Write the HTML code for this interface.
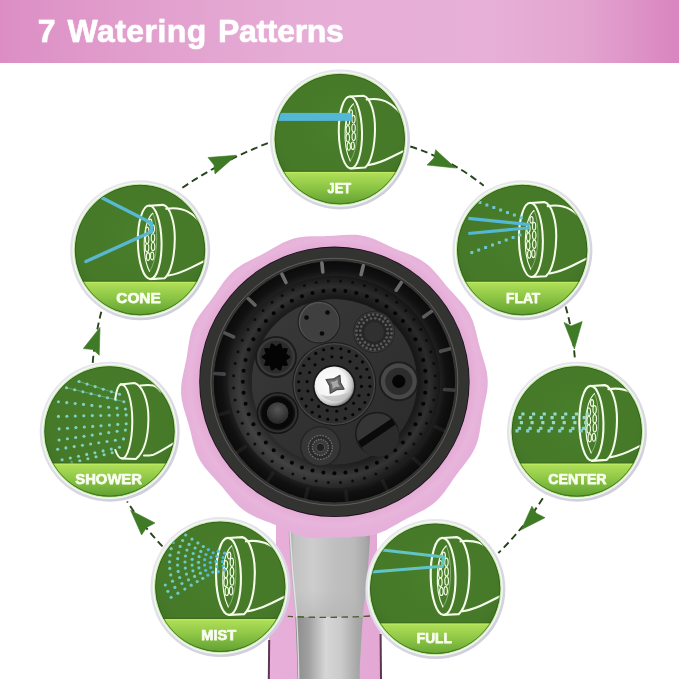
<!DOCTYPE html>
<html><head><meta charset="utf-8"><title>7 Watering Patterns</title>
<style>
html,body{margin:0;padding:0;background:#fff;}
body{width:679px;height:679px;overflow:hidden;position:relative;font-family:"Liberation Sans",sans-serif;}
#hdr{position:absolute;left:0;top:0;width:679px;height:62.6px;
 background:linear-gradient(90deg,#dc8ec4 0%,#e19dcc 18%,#e6add6 45%,#e7b0d8 72%,#e3a4d0 86%,#d985bf 100%);}
#hdr span{-webkit-text-stroke:0.5px #fff;position:absolute;top:13.4px;font-weight:bold;font-size:32px;line-height:37px;color:#fff;white-space:nowrap;text-shadow:0 0 1.5px rgba(255,255,255,.6);}
#h1{left:37.7px;}#h2{left:67.6px;letter-spacing:0.42px;}#h3{left:217.9px;letter-spacing:-0.3px;}
svg{position:absolute;left:0;top:0;will-change:transform;}
#hdr{will-change:transform;}
.lbl{font-family:"Liberation Sans",sans-serif;font-weight:bold;font-size:15.3px;fill:#f9fdf0;stroke:#f9fdf0;stroke-width:0.75px;stroke-linejoin:round;}
</style></head><body>
<div id="hdr"><span id="h1">7</span><span id="h2">Watering</span><span id="h3">Patterns</span></div>
<svg width="679" height="679" viewBox="0 0 679 679">
<defs>
<linearGradient id="ring" x1="0.15" y1="0" x2="0.85" y2="1"><stop offset="0" stop-color="#e9e9ee"/><stop offset="0.5" stop-color="#dddde5"/><stop offset="1" stop-color="#cccbd9"/></linearGradient>
<filter id="soft" x="-10%" y="-10%" width="120%" height="120%"><feGaussianBlur stdDeviation="0.6"/></filter>
<linearGradient id="band" x1="0" y1="0" x2="0" y2="1"><stop offset="0" stop-color="#b2e059"/><stop offset="0.4" stop-color="#8bc544"/><stop offset="1" stop-color="#4f8f2b"/></linearGradient>
<radialGradient id="gshade" cx="0.5" cy="0.4" r="0.62"><stop offset="0" stop-color="#4d852d" stop-opacity="0.5"/><stop offset="0.7" stop-color="#467a29" stop-opacity="0"/><stop offset="1" stop-color="#2f5f1c" stop-opacity="0.55"/></radialGradient>
<clipPath id="cclip"><circle r="65.2"/></clipPath>
<radialGradient id="pink" cx="0.5" cy="0.485" r="0.5"><stop offset="0.88" stop-color="#e3abd5"/><stop offset="0.94" stop-color="#e8b5dc"/><stop offset="1" stop-color="#e5b0d9"/></radialGradient>
<linearGradient id="pinkh" x1="0" y1="0" x2="1" y2="0"><stop offset="0" stop-color="#e7afda"/><stop offset="0.5" stop-color="#e5abd7"/><stop offset="1" stop-color="#e3a8d4"/></linearGradient>
<radialGradient id="rimshade" cx="0.5" cy="0.5" r="0.5"><stop offset="0.88" stop-color="#2a2a2a" stop-opacity="0.9"/><stop offset="0.93" stop-color="#454545" stop-opacity="0.6"/><stop offset="1" stop-color="#303030" stop-opacity="0.9"/></radialGradient>
<radialGradient id="bowl" cx="0.5" cy="0.5" r="0.5"><stop offset="0.84" stop-color="#2a2a2a"/><stop offset="0.93" stop-color="#111"/><stop offset="1" stop-color="#0b0b0b"/></radialGradient>
<radialGradient id="perf" cx="0.5" cy="0.5" r="0.5"><stop offset="0.8" stop-color="#1c1c1c"/><stop offset="0.9" stop-color="#333"/><stop offset="1" stop-color="#1a1a1a"/></radialGradient>
<linearGradient id="face" x1="0" y1="0" x2="1" y2="1"><stop offset="0" stop-color="#3a3a3a"/><stop offset="1" stop-color="#2a2a2a"/></linearGradient>
<radialGradient id="screw" cx="0.42" cy="0.42" r="0.62"><stop offset="0" stop-color="#ffffff"/><stop offset="0.62" stop-color="#f4f4f4"/><stop offset="0.85" stop-color="#c4c4c4"/><stop offset="1" stop-color="#6a6a6a"/></radialGradient>
<linearGradient id="perfl" x1="1" y1="0" x2="0" y2="1"><stop offset="0" stop-color="#000" stop-opacity="0.35"/><stop offset="0.45" stop-color="#000" stop-opacity="0"/><stop offset="1" stop-color="#fff" stop-opacity="0.2"/></linearGradient>
<radialGradient id="boss" cx="0.5" cy="0.35" r="0.6"><stop offset="0" stop-color="#555"/><stop offset="1" stop-color="#2a2a2a"/></radialGradient>
<linearGradient id="silver" x1="0" y1="0" x2="1" y2="0"><stop offset="0" stop-color="#a6a6a6"/><stop offset="0.07" stop-color="#c2c2c2"/><stop offset="0.3" stop-color="#cdcdcd"/><stop offset="0.55" stop-color="#c0c0c0"/><stop offset="0.8" stop-color="#bababa"/><stop offset="0.95" stop-color="#a8a8a8"/><stop offset="1" stop-color="#9a9a9a"/></linearGradient>
<linearGradient id="silver2" x1="0" y1="0" x2="1" y2="0"><stop offset="0.12" stop-color="#8c8c8c"/><stop offset="0.26" stop-color="#a0a0a0"/><stop offset="0.45" stop-color="#d6d6d6"/><stop offset="0.62" stop-color="#cbcbcb"/><stop offset="0.8" stop-color="#a8a8a8"/><stop offset="0.9" stop-color="#9c9c9c"/></linearGradient>
<linearGradient id="silfade" x1="0" y1="0" x2="0" y2="1"><stop offset="0" stop-color="#b4b4b4" stop-opacity="0"/><stop offset="1" stop-color="#b0b0b0" stop-opacity="0.55"/></linearGradient>
<linearGradient id="silverv_unused" x1="0" y1="0" x2="0" y2="1"><stop offset="0" stop-color="#bbb" stop-opacity="0.3"/><stop offset="0.55" stop-color="#aaa" stop-opacity="0.25"/><stop offset="0.62" stop-color="#e8e8e8" stop-opacity="0.5"/><stop offset="1" stop-color="#ddd" stop-opacity="0.3"/></linearGradient>
</defs>
<path d="M276,500 L276,560 C276,600 270,625 268.5,645 L268,679 L381.5,679 L381,640 C379.5,615 377,590 377,560 L377,500 Z" fill="url(#pinkh)"/>
<path d="M269.2,640 L268.8,679" stroke="#5e3653" stroke-width="2"/>
<path d="M380.6,634 L381,679" stroke="#5e3653" stroke-width="2"/>
<path d="M288.6,520 L288.6,530.5 C290,560 292.5,590 295.1,613.7 C296.5,640 297.3,660 297.5,679 L359.5,679 C360,655 361.5,635 363,613.7 C366.5,585 369,560 370.1,532.9 L370.1,520 Z" fill="url(#silver)"/>
<clipPath id="silclip"><path d="M288.6,520 L288.6,530.5 C290,560 292.5,590 295.1,613.7 C296.5,640 297.3,660 297.5,679 L359.5,679 C360,655 361.5,635 363,613.7 C366.5,585 369,560 370.1,532.9 L370.1,520 Z"/></clipPath>
<g clip-path="url(#silclip)">
<rect x="285" y="617" width="90" height="70" fill="url(#silver2)"/>
<rect x="285" y="590" width="90" height="27" fill="url(#silfade)"/>
<path d="M290,531 C291.5,560 294,590 296.6,614 C298,640 298.6,660 298.8,679" fill="none" stroke="#ececec" stroke-width="1.3" opacity="0.8"/>
</g>
<path d="M276,515 L288.6,530.5 L305.7,530.5 L310.4,537.6 L350,537.6 L353.7,532.9 L370.1,532.9 L377,515 Z" fill="#e6aed8"/>
<g transform="translate(334.4,381.8)">
<polygon points="153.2,4.7 152.9,7.4 152.6,10.0 152.1,12.7 151.6,15.3 151.1,17.9 150.5,20.5 149.9,23.1 149.4,25.7 148.8,28.3 148.3,30.9 147.8,33.4 147.4,36.0 147.0,38.6 146.6,41.3 146.2,43.9 145.8,46.5 145.4,49.2 144.9,51.8 144.4,54.4 143.8,57.0 143.0,59.6 142.2,62.1 141.2,64.6 140.1,67.1 138.9,69.5 137.6,71.8 136.2,74.1 134.7,76.3 133.1,78.5 131.5,80.6 129.9,82.8 128.3,84.9 126.6,86.9 125.0,89.0 123.4,91.1 121.8,93.2 120.3,95.4 118.8,97.5 117.3,99.7 115.8,101.9 114.3,104.1 112.8,106.3 111.3,108.5 109.7,110.6 108.0,112.7 106.3,114.8 104.5,116.8 102.6,118.7 100.6,120.5 98.6,122.2 96.4,123.8 94.2,125.3 91.9,126.7 89.6,128.1 87.3,129.3 84.9,130.5 82.5,131.7 80.1,132.9 77.7,134.1 75.4,135.2 73.0,136.4 70.7,137.7 68.4,138.9 66.1,140.2 63.8,141.6 61.5,142.9 59.2,144.2 56.9,145.5 54.6,146.8 52.2,148.1 49.8,149.2 47.3,150.3 44.8,151.3 42.3,152.1 39.7,152.9 37.1,153.5 34.5,154.0 31.8,154.3 29.1,154.6 26.5,154.8 23.8,154.9 21.1,154.9 18.4,154.9 15.8,155.0 13.1,155.0 10.5,155.0 7.9,155.1 5.3,155.2 2.6,155.4 0.0,155.5 -2.6,155.7 -5.3,156.0 -7.9,156.2 -10.6,156.3 -13.3,156.5 -16.0,156.5 -18.6,156.5 -21.3,156.4 -24.0,156.1 -26.6,155.8 -29.3,155.3 -31.9,154.6 -34.4,153.9 -37.0,153.1 -39.5,152.1 -42.0,151.1 -44.4,150.0 -46.8,148.9 -49.3,147.7 -51.7,146.6 -54.0,145.5 -56.4,144.4 -58.8,143.3 -61.3,142.3 -63.7,141.3 -66.2,140.3 -68.6,139.4 -71.1,138.4 -73.6,137.4 -76.1,136.4 -78.5,135.4 -80.9,134.2 -83.3,133.0 -85.7,131.7 -88.0,130.3 -90.2,128.8 -92.3,127.2 -94.4,125.5 -96.3,123.7 -98.2,121.8 -100.1,119.8 -101.8,117.8 -103.6,115.8 -105.2,113.7 -106.9,111.6 -108.6,109.6 -110.3,107.5 -111.9,105.5 -113.7,103.5 -115.4,101.5 -117.2,99.6 -119.0,97.6 -120.8,95.7 -122.6,93.8 -124.4,91.8 -126.2,89.8 -127.9,87.8 -129.6,85.7 -131.2,83.5 -132.7,81.3 -134.1,79.1 -135.4,76.7 -136.6,74.3 -137.7,71.9 -138.7,69.4 -139.5,66.8 -140.3,64.3 -141.0,61.7 -141.7,59.1 -142.3,56.5 -142.9,53.9 -143.5,51.3 -144.1,48.8 -144.8,46.2 -145.5,43.7 -146.2,41.2 -147.0,38.6 -147.7,36.1 -148.5,33.6 -149.3,31.0 -150.1,28.5 -150.8,25.9 -151.5,23.3 -152.1,20.7 -152.6,18.0 -152.9,15.4 -153.2,12.7 -153.3,10.1 -153.3,7.4 -153.2,4.7 -152.9,2.0 -152.6,-0.6 -152.1,-3.3 -151.6,-5.9 -151.1,-8.5 -150.5,-11.1 -149.9,-13.7 -149.4,-16.3 -148.8,-18.9 -148.3,-21.5 -147.8,-24.0 -147.4,-26.6 -147.0,-29.2 -146.6,-31.9 -146.2,-34.5 -145.8,-37.1 -145.4,-39.8 -144.9,-42.4 -144.4,-45.0 -143.8,-47.6 -143.0,-50.2 -142.2,-52.7 -141.2,-55.2 -140.1,-57.7 -138.9,-60.1 -137.6,-62.4 -136.2,-64.7 -134.7,-66.9 -133.1,-69.1 -131.5,-71.2 -129.9,-73.4 -128.3,-75.5 -126.6,-77.5 -125.0,-79.6 -123.4,-81.7 -121.8,-83.8 -120.3,-86.0 -118.8,-88.1 -117.3,-90.3 -115.8,-92.5 -114.3,-94.7 -112.8,-96.9 -111.3,-99.1 -109.7,-101.2 -108.0,-103.3 -106.3,-105.4 -104.5,-107.4 -102.6,-109.3 -100.6,-111.1 -98.6,-112.8 -96.4,-114.4 -94.2,-115.9 -91.9,-117.3 -89.6,-118.7 -87.3,-119.9 -84.9,-121.1 -82.5,-122.3 -80.1,-123.5 -77.7,-124.7 -75.4,-125.8 -73.0,-127.0 -70.7,-128.3 -68.4,-129.5 -66.1,-130.8 -63.8,-132.2 -61.5,-133.5 -59.2,-134.8 -56.9,-136.1 -54.6,-137.4 -52.2,-138.7 -49.8,-139.8 -47.3,-140.9 -44.8,-141.9 -42.3,-142.7 -39.7,-143.5 -37.1,-144.1 -34.5,-144.6 -31.8,-144.9 -29.1,-145.2 -26.5,-145.4 -23.8,-145.5 -21.1,-145.5 -18.4,-145.5 -15.8,-145.6 -13.1,-145.6 -10.5,-145.6 -7.9,-145.7 -5.3,-145.8 -2.6,-146.0 -0.0,-146.1 2.6,-146.3 5.3,-146.6 7.9,-146.8 10.6,-146.9 13.3,-147.1 16.0,-147.1 18.6,-147.1 21.3,-147.0 24.0,-146.7 26.6,-146.4 29.3,-145.9 31.9,-145.2 34.4,-144.5 37.0,-143.7 39.5,-142.7 42.0,-141.7 44.4,-140.6 46.8,-139.5 49.3,-138.3 51.7,-137.2 54.0,-136.1 56.4,-135.0 58.8,-133.9 61.3,-132.9 63.7,-131.9 66.2,-130.9 68.6,-130.0 71.1,-129.0 73.6,-128.0 76.1,-127.0 78.5,-126.0 80.9,-124.8 83.3,-123.6 85.7,-122.3 88.0,-120.9 90.2,-119.4 92.3,-117.8 94.4,-116.1 96.3,-114.3 98.2,-112.4 100.1,-110.4 101.8,-108.4 103.6,-106.4 105.2,-104.3 106.9,-102.2 108.6,-100.2 110.3,-98.1 111.9,-96.1 113.7,-94.1 115.4,-92.1 117.2,-90.2 119.0,-88.2 120.8,-86.3 122.6,-84.4 124.4,-82.4 126.2,-80.4 127.9,-78.4 129.6,-76.3 131.2,-74.1 132.7,-71.9 134.1,-69.7 135.4,-67.3 136.6,-64.9 137.7,-62.5 138.7,-60.0 139.5,-57.4 140.3,-54.9 141.0,-52.3 141.7,-49.7 142.3,-47.1 142.9,-44.5 143.5,-41.9 144.1,-39.4 144.8,-36.8 145.5,-34.3 146.2,-31.8 147.0,-29.2 147.7,-26.7 148.5,-24.2 149.3,-21.6 150.1,-19.1 150.8,-16.5 151.5,-13.9 152.1,-11.3 152.6,-8.6 152.9,-6.0 153.2,-3.3 153.3,-0.7 153.3,2.0 153.2,4.7" fill="url(#pink)"/>
<circle r="135.2" fill="#1c0f1a"/>
<circle r="134.4" fill="#333432"/>
<circle r="123.5" fill="none" stroke="#8a8a8a" stroke-width="0.7" opacity="0.7"/>
<circle r="120.5" fill="#161616"/>
<circle r="120.5" fill="url(#bowl)"/>
<line x1="-11.6" y1="-109.9" x2="-12.5" y2="-118.8" stroke="#8c8c8c" stroke-width="3.6" stroke-linecap="round" opacity="0.78"/>
<line x1="26.7" y1="-107.2" x2="28.9" y2="-116.0" stroke="#8c8c8c" stroke-width="3.6" stroke-linecap="round" opacity="0.77"/>
<line x1="61.8" y1="-91.6" x2="66.8" y2="-99.1" stroke="#8c8c8c" stroke-width="3.6" stroke-linecap="round" opacity="0.71"/>
<line x1="89.4" y1="-65.0" x2="96.7" y2="-70.2" stroke="#8c8c8c" stroke-width="3.6" stroke-linecap="round" opacity="0.62"/>
<line x1="106.2" y1="-30.5" x2="114.9" y2="-32.9" stroke="#8c8c8c" stroke-width="3.6" stroke-linecap="round" opacity="0.49"/>
<line x1="110.2" y1="7.7" x2="119.2" y2="8.3" stroke="#8c8c8c" stroke-width="3.6" stroke-linecap="round" opacity="0.35"/>
<line x1="100.9" y1="44.9" x2="109.2" y2="48.6" stroke="#8c8c8c" stroke-width="3.6" stroke-linecap="round" opacity="0.10"/>
<line x1="79.5" y1="76.8" x2="86.0" y2="83.0" stroke="#8c8c8c" stroke-width="3.6" stroke-linecap="round" opacity="0.10"/>
<line x1="48.4" y1="99.3" x2="52.4" y2="107.4" stroke="#8c8c8c" stroke-width="3.6" stroke-linecap="round" opacity="0.10"/>
<line x1="11.6" y1="109.9" x2="12.5" y2="118.8" stroke="#8c8c8c" stroke-width="3.6" stroke-linecap="round" opacity="0.10"/>
<line x1="-26.7" y1="107.2" x2="-28.9" y2="116.0" stroke="#8c8c8c" stroke-width="3.6" stroke-linecap="round" opacity="0.10"/>
<line x1="-61.8" y1="91.6" x2="-66.8" y2="99.1" stroke="#8c8c8c" stroke-width="3.6" stroke-linecap="round" opacity="0.10"/>
<line x1="-89.4" y1="65.0" x2="-96.7" y2="70.2" stroke="#8c8c8c" stroke-width="3.6" stroke-linecap="round" opacity="0.10"/>
<line x1="-106.2" y1="30.5" x2="-114.9" y2="32.9" stroke="#8c8c8c" stroke-width="3.6" stroke-linecap="round" opacity="0.10"/>
<line x1="-110.2" y1="-7.7" x2="-119.2" y2="-8.3" stroke="#8c8c8c" stroke-width="3.6" stroke-linecap="round" opacity="0.41"/>
<line x1="-100.9" y1="-44.9" x2="-109.2" y2="-48.6" stroke="#8c8c8c" stroke-width="3.6" stroke-linecap="round" opacity="0.54"/>
<line x1="-79.5" y1="-76.8" x2="-86.0" y2="-83.0" stroke="#8c8c8c" stroke-width="3.6" stroke-linecap="round" opacity="0.66"/>
<line x1="-48.4" y1="-99.3" x2="-52.4" y2="-107.4" stroke="#8c8c8c" stroke-width="3.6" stroke-linecap="round" opacity="0.74"/>
<circle r="106" fill="#2c2c2c"/>
<circle r="106" fill="url(#perf)"/>
<circle r="106" fill="url(#perfl)"/>
<circle cx="100.8" cy="6.1" r="1.5" fill="#0c0c0c"/>
<circle cx="99.3" cy="18.2" r="1.5" fill="#0c0c0c"/>
<circle cx="96.4" cy="30.0" r="1.5" fill="#0c0c0c"/>
<circle cx="92.1" cy="41.5" r="1.5" fill="#0c0c0c"/>
<circle cx="86.4" cy="52.3" r="1.5" fill="#0c0c0c"/>
<circle cx="79.5" cy="62.3" r="1.5" fill="#0c0c0c"/>
<circle cx="71.4" cy="71.4" r="1.5" fill="#0c0c0c"/>
<circle cx="62.3" cy="79.5" r="1.5" fill="#0c0c0c"/>
<circle cx="52.3" cy="86.4" r="1.5" fill="#0c0c0c"/>
<circle cx="41.5" cy="92.1" r="1.5" fill="#0c0c0c"/>
<circle cx="30.0" cy="96.4" r="1.5" fill="#0c0c0c"/>
<circle cx="18.2" cy="99.3" r="1.5" fill="#0c0c0c"/>
<circle cx="6.1" cy="100.8" r="1.5" fill="#0c0c0c"/>
<circle cx="-6.1" cy="100.8" r="1.5" fill="#0c0c0c"/>
<circle cx="-18.2" cy="99.3" r="1.5" fill="#0c0c0c"/>
<circle cx="-30.0" cy="96.4" r="1.5" fill="#0c0c0c"/>
<circle cx="-41.5" cy="92.1" r="1.5" fill="#0c0c0c"/>
<circle cx="-52.3" cy="86.4" r="1.5" fill="#0c0c0c"/>
<circle cx="-62.3" cy="79.5" r="1.5" fill="#0c0c0c"/>
<circle cx="-71.4" cy="71.4" r="1.5" fill="#0c0c0c"/>
<circle cx="-79.5" cy="62.3" r="1.5" fill="#0c0c0c"/>
<circle cx="-86.4" cy="52.3" r="1.5" fill="#0c0c0c"/>
<circle cx="-92.1" cy="41.5" r="1.5" fill="#0c0c0c"/>
<circle cx="-96.4" cy="30.0" r="1.5" fill="#0c0c0c"/>
<circle cx="-99.3" cy="18.2" r="1.5" fill="#0c0c0c"/>
<circle cx="-100.8" cy="6.1" r="1.5" fill="#0c0c0c"/>
<circle cx="-100.8" cy="-6.1" r="1.5" fill="#0c0c0c"/>
<circle cx="-99.3" cy="-18.2" r="1.5" fill="#0c0c0c"/>
<circle cx="-96.4" cy="-30.0" r="1.5" fill="#0c0c0c"/>
<circle cx="-92.1" cy="-41.5" r="1.5" fill="#0c0c0c"/>
<circle cx="-86.4" cy="-52.3" r="1.5" fill="#0c0c0c"/>
<circle cx="-79.5" cy="-62.3" r="1.5" fill="#0c0c0c"/>
<circle cx="-71.4" cy="-71.4" r="1.5" fill="#0c0c0c"/>
<circle cx="-62.3" cy="-79.5" r="1.5" fill="#0c0c0c"/>
<circle cx="-52.3" cy="-86.4" r="1.5" fill="#0c0c0c"/>
<circle cx="-41.5" cy="-92.1" r="1.5" fill="#0c0c0c"/>
<circle cx="-30.0" cy="-96.4" r="1.5" fill="#0c0c0c"/>
<circle cx="-18.2" cy="-99.3" r="1.5" fill="#0c0c0c"/>
<circle cx="-6.1" cy="-100.8" r="1.5" fill="#0c0c0c"/>
<circle cx="6.1" cy="-100.8" r="1.5" fill="#0c0c0c"/>
<circle cx="18.2" cy="-99.3" r="1.5" fill="#0c0c0c"/>
<circle cx="30.0" cy="-96.4" r="1.5" fill="#0c0c0c"/>
<circle cx="41.5" cy="-92.1" r="1.5" fill="#0c0c0c"/>
<circle cx="52.3" cy="-86.4" r="1.5" fill="#0c0c0c"/>
<circle cx="62.3" cy="-79.5" r="1.5" fill="#0c0c0c"/>
<circle cx="71.4" cy="-71.4" r="1.5" fill="#0c0c0c"/>
<circle cx="79.5" cy="-62.3" r="1.5" fill="#0c0c0c"/>
<circle cx="86.4" cy="-52.3" r="1.5" fill="#0c0c0c"/>
<circle cx="92.1" cy="-41.5" r="1.5" fill="#0c0c0c"/>
<circle cx="96.4" cy="-30.0" r="1.5" fill="#0c0c0c"/>
<circle cx="99.3" cy="-18.2" r="1.5" fill="#0c0c0c"/>
<circle cx="100.8" cy="-6.1" r="1.5" fill="#0c0c0c"/>
<circle cx="91.5" cy="0.0" r="2.0" fill="#040404"/>
<circle cx="90.8" cy="11.0" r="2.0" fill="#040404"/>
<circle cx="88.8" cy="21.9" r="2.0" fill="#040404"/>
<circle cx="85.6" cy="32.4" r="2.0" fill="#040404"/>
<circle cx="81.0" cy="42.5" r="2.0" fill="#040404"/>
<circle cx="75.3" cy="52.0" r="2.0" fill="#040404"/>
<circle cx="68.5" cy="60.7" r="2.0" fill="#040404"/>
<circle cx="60.7" cy="68.5" r="2.0" fill="#040404"/>
<circle cx="52.0" cy="75.3" r="2.0" fill="#040404"/>
<circle cx="42.5" cy="81.0" r="2.0" fill="#040404"/>
<circle cx="32.4" cy="85.6" r="2.0" fill="#040404"/>
<circle cx="21.9" cy="88.8" r="2.0" fill="#040404"/>
<circle cx="11.0" cy="90.8" r="2.0" fill="#040404"/>
<circle cx="-0.0" cy="91.5" r="2.0" fill="#040404"/>
<circle cx="-11.0" cy="90.8" r="2.0" fill="#040404"/>
<circle cx="-21.9" cy="88.8" r="2.0" fill="#040404"/>
<circle cx="-32.4" cy="85.6" r="2.0" fill="#040404"/>
<circle cx="-42.5" cy="81.0" r="2.0" fill="#040404"/>
<circle cx="-52.0" cy="75.3" r="2.0" fill="#040404"/>
<circle cx="-60.7" cy="68.5" r="2.0" fill="#040404"/>
<circle cx="-68.5" cy="60.7" r="2.0" fill="#040404"/>
<circle cx="-75.3" cy="52.0" r="2.0" fill="#040404"/>
<circle cx="-81.0" cy="42.5" r="2.0" fill="#040404"/>
<circle cx="-85.6" cy="32.4" r="2.0" fill="#040404"/>
<circle cx="-88.8" cy="21.9" r="2.0" fill="#040404"/>
<circle cx="-90.8" cy="11.0" r="2.0" fill="#040404"/>
<circle cx="-91.5" cy="-0.0" r="2.0" fill="#040404"/>
<circle cx="-90.8" cy="-11.0" r="2.0" fill="#040404"/>
<circle cx="-88.8" cy="-21.9" r="2.0" fill="#040404"/>
<circle cx="-85.6" cy="-32.4" r="2.0" fill="#040404"/>
<circle cx="-81.0" cy="-42.5" r="2.0" fill="#040404"/>
<circle cx="-75.3" cy="-52.0" r="2.0" fill="#040404"/>
<circle cx="-68.5" cy="-60.7" r="2.0" fill="#040404"/>
<circle cx="-60.7" cy="-68.5" r="2.0" fill="#040404"/>
<circle cx="-52.0" cy="-75.3" r="2.0" fill="#040404"/>
<circle cx="-42.5" cy="-81.0" r="2.0" fill="#040404"/>
<circle cx="-32.4" cy="-85.6" r="2.0" fill="#040404"/>
<circle cx="-21.9" cy="-88.8" r="2.0" fill="#040404"/>
<circle cx="-11.0" cy="-90.8" r="2.0" fill="#040404"/>
<circle cx="-0.0" cy="-91.5" r="2.0" fill="#040404"/>
<circle cx="11.0" cy="-90.8" r="2.0" fill="#040404"/>
<circle cx="21.9" cy="-88.8" r="2.0" fill="#040404"/>
<circle cx="32.4" cy="-85.6" r="2.0" fill="#040404"/>
<circle cx="42.5" cy="-81.0" r="2.0" fill="#040404"/>
<circle cx="52.0" cy="-75.3" r="2.0" fill="#040404"/>
<circle cx="60.7" cy="-68.5" r="2.0" fill="#040404"/>
<circle cx="68.5" cy="-60.7" r="2.0" fill="#040404"/>
<circle cx="75.3" cy="-52.0" r="2.0" fill="#040404"/>
<circle cx="81.0" cy="-42.5" r="2.0" fill="#040404"/>
<circle cx="85.6" cy="-32.4" r="2.0" fill="#040404"/>
<circle cx="88.8" cy="-21.9" r="2.0" fill="#040404"/>
<circle cx="90.8" cy="-11.0" r="2.0" fill="#040404"/>
<circle r="82.5" fill="#333333"/>
<circle r="82.5" fill="url(#face)"/>
</g>
<g>
<circle cx="334.3" cy="384" r="42" fill="#1a1a1a"/>
<circle cx="334.3" cy="384" r="41" fill="#444"/>
<circle cx="334.3" cy="384" r="39.6" fill="#2d2d2d"/>
<circle cx="370.0" cy="386.2" r="1.55" fill="#050505"/>
<circle cx="368.5" cy="394.7" r="1.55" fill="#050505"/>
<circle cx="364.9" cy="402.5" r="1.55" fill="#050505"/>
<circle cx="359.6" cy="409.3" r="1.55" fill="#050505"/>
<circle cx="352.8" cy="414.6" r="1.55" fill="#050505"/>
<circle cx="345.0" cy="418.2" r="1.55" fill="#050505"/>
<circle cx="336.5" cy="419.7" r="1.55" fill="#050505"/>
<circle cx="327.8" cy="419.2" r="1.55" fill="#050505"/>
<circle cx="319.6" cy="416.6" r="1.55" fill="#050505"/>
<circle cx="312.2" cy="412.2" r="1.55" fill="#050505"/>
<circle cx="306.1" cy="406.1" r="1.55" fill="#050505"/>
<circle cx="301.7" cy="398.7" r="1.55" fill="#050505"/>
<circle cx="299.1" cy="390.5" r="1.55" fill="#050505"/>
<circle cx="298.6" cy="381.8" r="1.55" fill="#050505"/>
<circle cx="300.1" cy="373.3" r="1.55" fill="#050505"/>
<circle cx="303.7" cy="365.5" r="1.55" fill="#050505"/>
<circle cx="309.0" cy="358.7" r="1.55" fill="#050505"/>
<circle cx="315.8" cy="353.4" r="1.55" fill="#050505"/>
<circle cx="323.6" cy="349.8" r="1.55" fill="#050505"/>
<circle cx="332.1" cy="348.3" r="1.55" fill="#050505"/>
<circle cx="340.8" cy="348.8" r="1.55" fill="#050505"/>
<circle cx="349.0" cy="351.4" r="1.55" fill="#050505"/>
<circle cx="356.4" cy="355.8" r="1.55" fill="#050505"/>
<circle cx="362.5" cy="361.9" r="1.55" fill="#050505"/>
<circle cx="366.9" cy="369.3" r="1.55" fill="#050505"/>
<circle cx="369.5" cy="377.5" r="1.55" fill="#050505"/>
<circle cx="361.5" cy="386.4" r="1.55" fill="#050505"/>
<circle cx="359.0" cy="395.5" r="1.55" fill="#050505"/>
<circle cx="353.6" cy="403.3" r="1.55" fill="#050505"/>
<circle cx="345.8" cy="408.7" r="1.55" fill="#050505"/>
<circle cx="336.7" cy="411.2" r="1.55" fill="#050505"/>
<circle cx="327.2" cy="410.4" r="1.55" fill="#050505"/>
<circle cx="318.6" cy="406.4" r="1.55" fill="#050505"/>
<circle cx="311.9" cy="399.7" r="1.55" fill="#050505"/>
<circle cx="307.9" cy="391.1" r="1.55" fill="#050505"/>
<circle cx="307.1" cy="381.6" r="1.55" fill="#050505"/>
<circle cx="309.6" cy="372.5" r="1.55" fill="#050505"/>
<circle cx="315.0" cy="364.7" r="1.55" fill="#050505"/>
<circle cx="322.8" cy="359.3" r="1.55" fill="#050505"/>
<circle cx="331.9" cy="356.8" r="1.55" fill="#050505"/>
<circle cx="341.4" cy="357.6" r="1.55" fill="#050505"/>
<circle cx="350.0" cy="361.6" r="1.55" fill="#050505"/>
<circle cx="356.7" cy="368.3" r="1.55" fill="#050505"/>
<circle cx="360.7" cy="376.9" r="1.55" fill="#050505"/>
<circle cx="334.3" cy="386.2" r="21.5" fill="#151515"/>
<circle cx="334.3" cy="386.2" r="19.8" fill="url(#screw)"/>
<path d="M-14,8 C-6,12 6,9 18.5,5 A19.8,19.8 0 0 1 -14,8 Z" transform="translate(334.3,386.2)" fill="#bdbdbd" opacity="0.75"/>
<polygon points="4.8,-9.0 5.4,-1.6 9.0,4.8 1.6,5.4 -4.8,9.0 -5.4,1.6 -9.0,-4.8 -1.6,-5.4" transform="translate(335.1,384.3)" fill="#6c6c6c" stroke="#484848" stroke-width="1.2" stroke-linejoin="round"/>
<polygon points="2.5,-4.8 2.7,-0.8 4.8,2.5 0.8,2.7 -2.5,4.8 -2.7,0.8 -4.8,-2.5 -0.8,-2.7" transform="translate(335.1,384.3)" fill="#a9a9a9"/>
<circle cx="319" cy="322" r="21.5" fill="#202020"/>
<circle cx="319" cy="322" r="20.3" fill="#545454"/>
<circle cx="319.4" cy="322.6" r="19.3" fill="#3f3f3f"/>
<circle cx="306.5" cy="317.5" r="2.3" fill="#0a0a0a"/>
<circle cx="327.5" cy="312.5" r="2.3" fill="#0a0a0a"/>
<circle cx="322" cy="333.5" r="2.3" fill="#0a0a0a"/>
<circle cx="374" cy="332" r="21" fill="#262626"/>
<circle cx="374" cy="332" r="19.5" fill="none" stroke="#3d3d3d" stroke-width="1"/>
<circle cx="391.5" cy="333.3" r="1.35" fill="#5a5a5a"/>
<circle cx="390.6" cy="337.4" r="1.35" fill="#5a5a5a"/>
<circle cx="388.9" cy="341.2" r="1.35" fill="#5a5a5a"/>
<circle cx="386.2" cy="344.5" r="1.35" fill="#5a5a5a"/>
<circle cx="382.9" cy="347.1" r="1.35" fill="#5a5a5a"/>
<circle cx="379.0" cy="348.8" r="1.35" fill="#5a5a5a"/>
<circle cx="374.8" cy="349.5" r="1.35" fill="#5a5a5a"/>
<circle cx="370.6" cy="349.2" r="1.35" fill="#5a5a5a"/>
<circle cx="366.6" cy="347.9" r="1.35" fill="#5a5a5a"/>
<circle cx="363.0" cy="345.6" r="1.35" fill="#5a5a5a"/>
<circle cx="360.1" cy="342.6" r="1.35" fill="#5a5a5a"/>
<circle cx="358.0" cy="339.0" r="1.35" fill="#5a5a5a"/>
<circle cx="356.7" cy="334.9" r="1.35" fill="#5a5a5a"/>
<circle cx="356.5" cy="330.7" r="1.35" fill="#5a5a5a"/>
<circle cx="357.4" cy="326.6" r="1.35" fill="#5a5a5a"/>
<circle cx="359.1" cy="322.8" r="1.35" fill="#5a5a5a"/>
<circle cx="361.8" cy="319.5" r="1.35" fill="#5a5a5a"/>
<circle cx="365.1" cy="316.9" r="1.35" fill="#5a5a5a"/>
<circle cx="369.0" cy="315.2" r="1.35" fill="#5a5a5a"/>
<circle cx="373.2" cy="314.5" r="1.35" fill="#5a5a5a"/>
<circle cx="377.4" cy="314.8" r="1.35" fill="#5a5a5a"/>
<circle cx="381.4" cy="316.1" r="1.35" fill="#5a5a5a"/>
<circle cx="385.0" cy="318.4" r="1.35" fill="#5a5a5a"/>
<circle cx="387.9" cy="321.4" r="1.35" fill="#5a5a5a"/>
<circle cx="390.0" cy="325.0" r="1.35" fill="#5a5a5a"/>
<circle cx="391.3" cy="329.1" r="1.35" fill="#5a5a5a"/>
<circle cx="387.7" cy="333.3" r="1.35" fill="#5a5a5a"/>
<circle cx="386.7" cy="337.5" r="1.35" fill="#5a5a5a"/>
<circle cx="384.4" cy="341.1" r="1.35" fill="#5a5a5a"/>
<circle cx="381.0" cy="343.9" r="1.35" fill="#5a5a5a"/>
<circle cx="377.0" cy="345.5" r="1.35" fill="#5a5a5a"/>
<circle cx="372.7" cy="345.7" r="1.35" fill="#5a5a5a"/>
<circle cx="368.5" cy="344.7" r="1.35" fill="#5a5a5a"/>
<circle cx="364.9" cy="342.4" r="1.35" fill="#5a5a5a"/>
<circle cx="362.1" cy="339.0" r="1.35" fill="#5a5a5a"/>
<circle cx="360.5" cy="335.0" r="1.35" fill="#5a5a5a"/>
<circle cx="360.3" cy="330.7" r="1.35" fill="#5a5a5a"/>
<circle cx="361.3" cy="326.5" r="1.35" fill="#5a5a5a"/>
<circle cx="363.6" cy="322.9" r="1.35" fill="#5a5a5a"/>
<circle cx="367.0" cy="320.1" r="1.35" fill="#5a5a5a"/>
<circle cx="371.0" cy="318.5" r="1.35" fill="#5a5a5a"/>
<circle cx="375.3" cy="318.3" r="1.35" fill="#5a5a5a"/>
<circle cx="379.5" cy="319.3" r="1.35" fill="#5a5a5a"/>
<circle cx="383.1" cy="321.6" r="1.35" fill="#5a5a5a"/>
<circle cx="385.9" cy="325.0" r="1.35" fill="#5a5a5a"/>
<circle cx="387.5" cy="329.0" r="1.35" fill="#5a5a5a"/>
<circle cx="374" cy="332" r="10" fill="#303030"/>
<circle cx="398.8" cy="381.3" r="20" fill="#1d1d1d"/>
<circle cx="398.8" cy="381.3" r="18" fill="#484848"/>
<circle cx="398.8" cy="381.3" r="13.6" fill="#2c2c2c"/>
<circle cx="398.8" cy="381.3" r="6.6" fill="#050505"/>
<circle cx="377" cy="433.7" r="22" fill="#1a1a1a"/>
<circle cx="377" cy="433.7" r="20.5" fill="#353535"/>
<path d="M-19,7.5 L15,-15.5 L18.5,-9 L-15.5,14 Z" transform="translate(377,433.7)" fill="#0a0a0a"/>
<path d="M-15.5,14 L18.5,-9 A20.5,20.5 0 0 1 -15.5,14 Z" transform="translate(377,433.7)" fill="#2b2b2b"/>
<circle cx="320.4" cy="446.4" r="20.5" fill="#242424"/>
<circle cx="320.4" cy="446.4" r="19" fill="#363636"/>
<circle cx="320.4" cy="447.4" r="12" fill="#2a2a2a" stroke="#6a6a6a" stroke-width="1.3" stroke-dasharray="1.8 1.1"/>
<circle cx="320.4" cy="447.4" r="8" fill="#3a3a3a" stroke="#707070" stroke-width="1.4" stroke-dasharray="1.4 1.1"/>
<circle cx="320.4" cy="447.4" r="4.2" fill="#202020" stroke="#5a5a5a" stroke-width="0.8"/>
<circle cx="277.7" cy="413" r="21" fill="#141414"/>
<circle cx="277.7" cy="413" r="18.5" fill="none" stroke="#303030" stroke-width="2"/>
<circle cx="277.7" cy="413" r="16" fill="#080808"/>
<circle cx="277.7" cy="413" r="10.6" fill="#3e3e3e"/>
<circle cx="277.7" cy="413" r="10.6" fill="url(#boss)"/>
<circle cx="276" cy="357" r="21" fill="#1b1b1b"/>
<circle cx="276" cy="357" r="19" fill="#3a3a3a"/>
<circle cx="276" cy="357" r="16.5" fill="#2b2b2b"/>
<polygon points="290.2,357.0 290.2,357.2 290.1,357.5 290.0,357.7 289.8,358.0 289.6,358.2 289.3,358.4 289.0,358.6 288.8,358.8 288.4,359.0 288.1,359.1 287.8,359.3 287.5,359.5 287.3,359.6 287.0,359.8 286.8,359.9 286.7,360.1 286.5,360.2 286.5,360.4 286.4,360.6 286.4,360.8 286.5,361.0 286.5,361.3 286.7,361.5 286.8,361.8 286.9,362.1 287.1,362.4 287.2,362.7 287.4,363.0 287.5,363.4 287.6,363.7 287.7,364.0 287.7,364.3 287.7,364.6 287.7,364.9 287.6,365.1 287.5,365.3 287.3,365.5 287.1,365.7 286.9,365.8 286.6,365.9 286.3,365.9 286.0,366.0 285.6,366.0 285.3,365.9 284.9,365.9 284.6,365.9 284.2,365.8 283.9,365.8 283.6,365.7 283.3,365.7 283.1,365.7 282.8,365.7 282.6,365.8 282.5,365.9 282.3,366.0 282.2,366.2 282.1,366.4 282.0,366.6 282.0,366.9 281.9,367.2 281.8,367.5 281.8,367.9 281.7,368.2 281.6,368.6 281.6,368.9 281.5,369.2 281.3,369.5 281.2,369.8 281.0,370.1 280.8,370.3 280.6,370.4 280.4,370.5 280.1,370.6 279.9,370.6 279.6,370.5 279.3,370.4 279.1,370.3 278.8,370.1 278.5,369.9 278.2,369.7 278.0,369.4 277.7,369.2 277.5,369.0 277.2,368.7 277.0,368.5 276.8,368.3 276.6,368.2 276.4,368.1 276.2,368.0 276.0,368.0 275.8,368.0 275.6,368.1 275.4,368.2 275.2,368.3 275.0,368.5 274.8,368.7 274.5,369.0 274.3,369.2 274.0,369.4 273.8,369.7 273.5,369.9 273.2,370.1 272.9,370.3 272.7,370.4 272.4,370.5 272.1,370.6 271.9,370.6 271.6,370.5 271.4,370.4 271.2,370.3 271.0,370.1 270.8,369.8 270.7,369.5 270.5,369.2 270.4,368.9 270.4,368.6 270.3,368.2 270.2,367.9 270.2,367.5 270.1,367.2 270.0,366.9 270.0,366.6 269.9,366.4 269.8,366.2 269.7,366.0 269.5,365.9 269.4,365.8 269.2,365.7 268.9,365.7 268.7,365.7 268.4,365.7 268.1,365.8 267.8,365.8 267.4,365.9 267.1,365.9 266.7,365.9 266.4,366.0 266.0,366.0 265.7,365.9 265.4,365.9 265.1,365.8 264.9,365.7 264.7,365.5 264.5,365.3 264.4,365.1 264.3,364.9 264.3,364.6 264.3,364.3 264.3,364.0 264.4,363.7 264.5,363.4 264.6,363.0 264.8,362.7 264.9,362.4 265.1,362.1 265.2,361.8 265.3,361.5 265.5,361.3 265.5,361.0 265.6,360.8 265.6,360.6 265.5,360.4 265.5,360.2 265.3,360.1 265.2,359.9 265.0,359.8 264.7,359.6 264.5,359.5 264.2,359.3 263.9,359.1 263.6,359.0 263.2,358.8 263.0,358.6 262.7,358.4 262.4,358.2 262.2,358.0 262.0,357.7 261.9,357.5 261.8,357.2 261.8,357.0 261.8,356.8 261.9,356.5 262.0,356.3 262.2,356.0 262.4,355.8 262.7,355.6 263.0,355.4 263.2,355.2 263.6,355.0 263.9,354.9 264.2,354.7 264.5,354.5 264.7,354.4 265.0,354.2 265.2,354.1 265.3,353.9 265.5,353.8 265.5,353.6 265.6,353.4 265.6,353.2 265.5,353.0 265.5,352.7 265.3,352.5 265.2,352.2 265.1,351.9 264.9,351.6 264.8,351.3 264.6,351.0 264.5,350.6 264.4,350.3 264.3,350.0 264.3,349.7 264.3,349.4 264.3,349.1 264.4,348.9 264.5,348.7 264.7,348.5 264.9,348.3 265.1,348.2 265.4,348.1 265.7,348.1 266.0,348.0 266.4,348.0 266.7,348.1 267.1,348.1 267.4,348.1 267.8,348.2 268.1,348.2 268.4,348.3 268.7,348.3 268.9,348.3 269.2,348.3 269.4,348.2 269.5,348.1 269.7,348.0 269.8,347.8 269.9,347.6 270.0,347.4 270.0,347.1 270.1,346.8 270.2,346.5 270.2,346.1 270.3,345.8 270.4,345.4 270.4,345.1 270.5,344.8 270.7,344.5 270.8,344.2 271.0,343.9 271.2,343.7 271.4,343.6 271.6,343.5 271.9,343.4 272.1,343.4 272.4,343.5 272.7,343.6 272.9,343.7 273.2,343.9 273.5,344.1 273.8,344.3 274.0,344.6 274.3,344.8 274.5,345.0 274.8,345.3 275.0,345.5 275.2,345.7 275.4,345.8 275.6,345.9 275.8,346.0 276.0,346.0 276.2,346.0 276.4,345.9 276.6,345.8 276.8,345.7 277.0,345.5 277.2,345.3 277.5,345.0 277.7,344.8 278.0,344.6 278.2,344.3 278.5,344.1 278.8,343.9 279.1,343.7 279.3,343.6 279.6,343.5 279.9,343.4 280.1,343.4 280.4,343.5 280.6,343.6 280.8,343.7 281.0,343.9 281.2,344.2 281.3,344.5 281.5,344.8 281.6,345.1 281.6,345.4 281.7,345.8 281.8,346.1 281.8,346.5 281.9,346.8 282.0,347.1 282.0,347.4 282.1,347.6 282.2,347.8 282.3,348.0 282.5,348.1 282.6,348.2 282.8,348.3 283.1,348.3 283.3,348.3 283.6,348.3 283.9,348.2 284.2,348.2 284.6,348.1 284.9,348.1 285.3,348.1 285.6,348.0 286.0,348.0 286.3,348.1 286.6,348.1 286.9,348.2 287.1,348.3 287.3,348.5 287.5,348.7 287.6,348.9 287.7,349.1 287.7,349.4 287.7,349.7 287.7,350.0 287.6,350.3 287.5,350.6 287.4,351.0 287.2,351.3 287.1,351.6 286.9,351.9 286.8,352.2 286.7,352.5 286.5,352.7 286.5,353.0 286.4,353.2 286.4,353.4 286.5,353.6 286.5,353.8 286.7,353.9 286.8,354.1 287.0,354.2 287.3,354.4 287.5,354.5 287.8,354.7 288.1,354.9 288.4,355.0 288.8,355.2 289.0,355.4 289.3,355.6 289.6,355.8 289.8,356.0 290.0,356.3 290.1,356.5 290.2,356.8" fill="#040404"/>
</g>
<path d="M182.4,187.7 Q222,161 268,143" fill="none" stroke="#27441a" stroke-width="1.9" stroke-dasharray="7 4.2"/>
<polygon points="236.3,155.3 208,157.5 214,165 215,174" fill="#3f7a27" stroke="#3f7a27" stroke-width="0.6" stroke-linejoin="round"/>
<path d="M410.3,146.5 Q452,160 483.7,185.7" fill="none" stroke="#27441a" stroke-width="1.9" stroke-dasharray="7 4.2"/>
<polygon points="455.4,168 435.6,149.7 434,158 427,165" fill="#3f7a27" stroke="#3f7a27" stroke-width="0.6" stroke-linejoin="round"/>
<path d="M565.6,306.5 Q573,332 575,360.4" fill="none" stroke="#27441a" stroke-width="1.9" stroke-dasharray="7 4.2"/>
<polygon points="574.4,349 564,322.4 571,326 582.2,321.5" fill="#3f7a27" stroke="#3f7a27" stroke-width="0.6" stroke-linejoin="round"/>
<path d="M542.8,498.3 Q524,528 498.3,553" fill="none" stroke="#27441a" stroke-width="1.9" stroke-dasharray="7 4.2"/>
<polygon points="521.3,529.7 531.9,506.2 536.3,513.3 545,517.7" fill="#3f7a27" stroke="#3f7a27" stroke-width="0.6" stroke-linejoin="round"/>
<path d="M370,616 Q329,618.5 287.7,616.3" fill="none" stroke="#3e4f22" stroke-width="1.3" stroke-dasharray="6.5 4.5" opacity="0.9"/>
<path d="M162.5,546.4 Q143,526 127.1,501.5" fill="none" stroke="#27441a" stroke-width="1.9" stroke-dasharray="7 4.2"/>
<polygon points="130.6,510.3 155,523 146.6,527.4 141.6,535" fill="#3f7a27" stroke="#3f7a27" stroke-width="0.6" stroke-linejoin="round"/>
<path d="M92.7,362.8 Q95,336 101.5,311" fill="none" stroke="#27441a" stroke-width="1.9" stroke-dasharray="7 4.2"/>
<polygon points="100,327.4 83.3,348.6 93,349.5 99.2,355.2" fill="#3f7a27" stroke="#3f7a27" stroke-width="0.6" stroke-linejoin="round"/>
<g transform="translate(339.8,139.1)">
<circle cx="0.2" cy="0.3" r="70.0" fill="url(#ring)" filter="url(#soft)"/>
<circle r="67.60000000000001" fill="#f8f8fa"/>
<circle r="66.3" fill="#c6eca8"/>
<g clip-path="url(#cclip)">
<circle r="65.2" fill="#467a29"/>
<circle r="65.2" fill="url(#gshade)"/>
<g transform="translate(10.6,-6.7) scale(1.0)" fill="none" stroke="#f5fdea" stroke-width="2.0" stroke-linecap="round" stroke-linejoin="round">
<ellipse cx="0" cy="0" rx="11.6" ry="36" transform="rotate(-1)"/>
<path d="M3,-28.5 C-6.5,-20 -8.4,12 -0.2,28.5" stroke-width="1.1"/>
<path d="M3,-28.5 C8.5,-18 9,16 -0.2,28.5" stroke-width="0.7" opacity="0.55"/>
<path d="M-0.2,-35.9 L13,-36.7 C20.5,-35 24.8,-18 24.6,-3 C24.4,14 21,30 14.6,35.2 L0.6,36.1"/>
<path d="M16.3,-32.8 C24,-34 33,-32.5 38.1,-29.6 C44,-26.5 50,-20 56,-12"/>
<path d="M18.3,32.6 C26,31.3 34,28.2 41.1,24.6 C47,21.7 54,18.2 62,14.2"/>
<ellipse cx="0.6" cy="-19.5" rx="1.5" ry="3.2" stroke-width="1.15" stroke="#eefadf"/>
<ellipse cx="-2.4" cy="-11" rx="1.6" ry="3.8" stroke-width="1.15" stroke="#eefadf"/>
<ellipse cx="3.1" cy="-13.2" rx="1.6" ry="3.8" stroke-width="1.15" stroke="#eefadf"/>
<ellipse cx="-2.5" cy="-2.8" rx="1.7" ry="4.0" stroke-width="1.15" stroke="#eefadf"/>
<ellipse cx="3.2" cy="-4.4" rx="1.7" ry="4.0" stroke-width="1.15" stroke="#eefadf"/>
<ellipse cx="-2.6" cy="5.4" rx="1.7" ry="4.0" stroke-width="1.15" stroke="#eefadf"/>
<ellipse cx="3.3" cy="4.2" rx="1.7" ry="4.0" stroke-width="1.15" stroke="#eefadf"/>
<ellipse cx="-1.6" cy="14" rx="1.6" ry="3.8" stroke-width="1.15" stroke="#eefadf"/>
<ellipse cx="2.4" cy="13.4" rx="1.6" ry="3.8" stroke-width="1.15" stroke="#eefadf"/>
</g>
<g transform="translate(-339.8,-139.1)"><rect x="278" y="112.9" width="74" height="8" fill="#55b7d6"/></g>
<rect x="-70" y="32.8" width="140" height="40" fill="url(#band)"/>
<rect x="-70" y="31.499999999999996" width="140" height="1.3" fill="#3c6a18" opacity="0.85"/>
<rect x="-70" y="32.8" width="140" height="1.2" fill="#bdea62"/>
</g>
<circle r="64.8" fill="none" stroke="#2a5418" stroke-width="1" opacity="0.6"/>
<text x="-12.3" y="53.7" textLength="23.5" lengthAdjust="spacingAndGlyphs" class="lbl">JET</text>
</g>
<g transform="translate(140.0,250.0)">
<circle cx="0.2" cy="0.3" r="70.0" fill="url(#ring)" filter="url(#soft)"/>
<circle r="67.60000000000001" fill="#f8f8fa"/>
<circle r="66.3" fill="#c6eca8"/>
<g clip-path="url(#cclip)">
<circle r="65.2" fill="#467a29"/>
<circle r="65.2" fill="url(#gshade)"/>
<g transform="translate(9.7,-7.7) scale(1.02)" fill="none" stroke="#f5fdea" stroke-width="2.0" stroke-linecap="round" stroke-linejoin="round">
<ellipse cx="0" cy="0" rx="11.6" ry="36" transform="rotate(-1)"/>
<path d="M3,-28.5 C-6.5,-20 -8.4,12 -0.2,28.5" stroke-width="1.1"/>
<path d="M3,-28.5 C8.5,-18 9,16 -0.2,28.5" stroke-width="0.7" opacity="0.55"/>
<path d="M-0.2,-35.9 L13,-36.7 C20.5,-35 24.8,-18 24.6,-3 C24.4,14 21,30 14.6,35.2 L0.6,36.1"/>
<path d="M16.3,-32.8 C24,-34 33,-32.5 38.1,-29.6 C44,-26.5 50,-20 56,-12"/>
<path d="M18.3,32.6 C26,31.3 34,28.2 41.1,24.6 C47,21.7 54,18.2 62,14.2"/>
<ellipse cx="0.6" cy="-19.5" rx="1.5" ry="3.2" stroke-width="1.15" stroke="#eefadf"/>
<ellipse cx="-2.4" cy="-11" rx="1.6" ry="3.8" stroke-width="1.15" stroke="#eefadf"/>
<ellipse cx="3.1" cy="-13.2" rx="1.6" ry="3.8" stroke-width="1.15" stroke="#eefadf"/>
<ellipse cx="-2.5" cy="-2.8" rx="1.7" ry="4.0" stroke-width="1.15" stroke="#eefadf"/>
<ellipse cx="3.2" cy="-4.4" rx="1.7" ry="4.0" stroke-width="1.15" stroke="#eefadf"/>
<ellipse cx="-2.6" cy="5.4" rx="1.7" ry="4.0" stroke-width="1.15" stroke="#eefadf"/>
<ellipse cx="3.3" cy="4.2" rx="1.7" ry="4.0" stroke-width="1.15" stroke="#eefadf"/>
<ellipse cx="-1.6" cy="14" rx="1.6" ry="3.8" stroke-width="1.15" stroke="#eefadf"/>
<ellipse cx="2.4" cy="13.4" rx="1.6" ry="3.8" stroke-width="1.15" stroke="#eefadf"/>
</g>
<g transform="translate(-140.0,-250.0)"><path d="M102.4,198 L151.4,223 L151.4,231.8 L85.9,261.5" fill="none" stroke="#59b8d0" stroke-width="3.4" stroke-linejoin="round" stroke-linecap="round"/></g>
<rect x="-70" y="31.8" width="140" height="40" fill="url(#band)"/>
<rect x="-70" y="30.5" width="140" height="1.3" fill="#3c6a18" opacity="0.85"/>
<rect x="-70" y="31.8" width="140" height="1.2" fill="#bdea62"/>
</g>
<circle r="64.8" fill="none" stroke="#2a5418" stroke-width="1" opacity="0.6"/>
<text x="-23.7" y="52.7" textLength="44.4" lengthAdjust="spacingAndGlyphs" class="lbl">CONE</text>
</g>
<g transform="translate(522.2,250.0)">
<circle cx="0.2" cy="0.3" r="70.0" fill="url(#ring)" filter="url(#soft)"/>
<circle r="67.60000000000001" fill="#f8f8fa"/>
<circle r="66.3" fill="#c6eca8"/>
<g clip-path="url(#cclip)">
<circle r="65.2" fill="#467a29"/>
<circle r="65.2" fill="url(#gshade)"/>
<g transform="translate(8.7,-10.1) scale(1.03)" fill="none" stroke="#f5fdea" stroke-width="2.0" stroke-linecap="round" stroke-linejoin="round">
<ellipse cx="0" cy="0" rx="11.6" ry="36" transform="rotate(-1)"/>
<path d="M3,-28.5 C-6.5,-20 -8.4,12 -0.2,28.5" stroke-width="1.1"/>
<path d="M3,-28.5 C8.5,-18 9,16 -0.2,28.5" stroke-width="0.7" opacity="0.55"/>
<path d="M-0.2,-35.9 L13,-36.7 C20.5,-35 24.8,-18 24.6,-3 C24.4,14 21,30 14.6,35.2 L0.6,36.1"/>
<path d="M16.3,-32.8 C24,-34 33,-32.5 38.1,-29.6 C44,-26.5 50,-20 56,-12"/>
<path d="M18.3,32.6 C26,31.3 34,28.2 41.1,24.6 C47,21.7 54,18.2 62,14.2"/>
<ellipse cx="0.6" cy="-19.5" rx="1.5" ry="3.2" stroke-width="1.15" stroke="#eefadf"/>
<ellipse cx="-2.4" cy="-11" rx="1.6" ry="3.8" stroke-width="1.15" stroke="#eefadf"/>
<ellipse cx="3.1" cy="-13.2" rx="1.6" ry="3.8" stroke-width="1.15" stroke="#eefadf"/>
<ellipse cx="-2.5" cy="-2.8" rx="1.7" ry="4.0" stroke-width="1.15" stroke="#eefadf"/>
<ellipse cx="3.2" cy="-4.4" rx="1.7" ry="4.0" stroke-width="1.15" stroke="#eefadf"/>
<ellipse cx="-2.6" cy="5.4" rx="1.7" ry="4.0" stroke-width="1.15" stroke="#eefadf"/>
<ellipse cx="3.3" cy="4.2" rx="1.7" ry="4.0" stroke-width="1.15" stroke="#eefadf"/>
<ellipse cx="-1.6" cy="14" rx="1.6" ry="3.8" stroke-width="1.15" stroke="#eefadf"/>
<ellipse cx="2.4" cy="13.4" rx="1.6" ry="3.8" stroke-width="1.15" stroke="#eefadf"/>
</g>
<g transform="translate(-522.2,-250.0)"><path d="M468.3,218.4 L529.7,224.6 M468.3,233.5 L529.7,227.8" fill="none" stroke="#55b7d6" stroke-width="3.1"/>
<g fill="#6cc6d8" opacity="1"><rect x="478.5" y="200.9" width="3.0" height="3.0" rx="0.5"/><rect x="485.4" y="203.4" width="3.0" height="3.0" rx="0.5"/><rect x="492.3" y="206.0" width="3.0" height="3.0" rx="0.5"/><rect x="499.1" y="208.6" width="3.0" height="3.0" rx="0.5"/><rect x="506.0" y="211.1" width="3.0" height="3.0" rx="0.5"/><rect x="512.9" y="213.6" width="3.0" height="3.0" rx="0.5"/><rect x="519.8" y="216.2" width="3.0" height="3.0" rx="0.5"/></g>
<g fill="#6cc6d8" opacity="1"><rect x="470.3" y="250.9" width="3.0" height="3.0" rx="0.5"/><rect x="477.2" y="248.4" width="3.0" height="3.0" rx="0.5"/><rect x="484.1" y="245.9" width="3.0" height="3.0" rx="0.5"/><rect x="491.0" y="243.4" width="3.0" height="3.0" rx="0.5"/><rect x="497.8" y="241.0" width="3.0" height="3.0" rx="0.5"/><rect x="504.7" y="238.5" width="3.0" height="3.0" rx="0.5"/><rect x="511.6" y="236.0" width="3.0" height="3.0" rx="0.5"/><rect x="518.5" y="233.5" width="3.0" height="3.0" rx="0.5"/></g></g>
<rect x="-70" y="31.8" width="140" height="40" fill="url(#band)"/>
<rect x="-70" y="30.5" width="140" height="1.3" fill="#3c6a18" opacity="0.85"/>
<rect x="-70" y="31.8" width="140" height="1.2" fill="#bdea62"/>
</g>
<circle r="64.8" fill="none" stroke="#2a5418" stroke-width="1" opacity="0.6"/>
<text x="-16.1" y="52.7" textLength="34.1" lengthAdjust="spacingAndGlyphs" class="lbl">FLAT</text>
</g>
<g transform="translate(109.5,431.4)">
<circle cx="0.2" cy="0.3" r="70.0" fill="url(#ring)" filter="url(#soft)"/>
<circle r="67.60000000000001" fill="#f8f8fa"/>
<circle r="66.3" fill="#c6eca8"/>
<g clip-path="url(#cclip)">
<circle r="65.2" fill="#467a29"/>
<circle r="65.2" fill="url(#gshade)"/>
<g transform="translate(-109.5,-431.4)"><path d="M79,381.5 L119.5,394.3 M66.5,387.7 L123.9,401.7" stroke="#8fd9c9" stroke-width="0.6" opacity="0.75"/>
<g fill="#7dd3c6" opacity="1"><circle cx="79.0" cy="381.5" r="1.55"/><circle cx="87.1" cy="384.1" r="1.55"/><circle cx="95.2" cy="386.6" r="1.55"/><circle cx="103.3" cy="389.2" r="1.55"/><circle cx="111.4" cy="391.7" r="1.55"/><circle cx="119.5" cy="394.3" r="1.55"/><circle cx="66.5" cy="387.7" r="1.55"/><circle cx="74.7" cy="389.7" r="1.55"/><circle cx="82.9" cy="391.7" r="1.55"/><circle cx="91.1" cy="393.7" r="1.55"/><circle cx="99.3" cy="395.7" r="1.55"/><circle cx="107.5" cy="397.7" r="1.55"/><circle cx="115.7" cy="399.7" r="1.55"/><circle cx="123.9" cy="401.7" r="1.55"/><circle cx="58.4" cy="401.7" r="1.55"/><circle cx="66.8" cy="402.6" r="1.55"/><circle cx="75.2" cy="403.5" r="1.55"/><circle cx="83.5" cy="404.4" r="1.55"/><circle cx="91.9" cy="405.4" r="1.55"/><circle cx="100.3" cy="406.3" r="1.55"/><circle cx="108.7" cy="407.2" r="1.55"/><circle cx="117.0" cy="408.1" r="1.55"/><circle cx="125.4" cy="409.0" r="1.55"/><circle cx="58.4" cy="416.4" r="1.55"/><circle cx="66.9" cy="416.2" r="1.55"/><circle cx="75.3" cy="416.0" r="1.55"/><circle cx="83.8" cy="415.8" r="1.55"/><circle cx="92.3" cy="415.6" r="1.55"/><circle cx="100.8" cy="415.5" r="1.55"/><circle cx="109.2" cy="415.3" r="1.55"/><circle cx="117.7" cy="415.1" r="1.55"/><circle cx="126.2" cy="414.9" r="1.55"/><circle cx="59.1" cy="428.9" r="1.55"/><circle cx="67.5" cy="428.3" r="1.55"/><circle cx="75.9" cy="427.6" r="1.55"/><circle cx="84.3" cy="427.0" r="1.55"/><circle cx="92.7" cy="426.4" r="1.55"/><circle cx="101.0" cy="425.7" r="1.55"/><circle cx="109.4" cy="425.1" r="1.55"/><circle cx="117.8" cy="424.4" r="1.55"/><circle cx="126.2" cy="423.8" r="1.55"/><circle cx="59.1" cy="440.0" r="1.55"/><circle cx="67.4" cy="438.8" r="1.55"/><circle cx="75.7" cy="437.5" r="1.55"/><circle cx="84.0" cy="436.3" r="1.55"/><circle cx="92.2" cy="435.1" r="1.55"/><circle cx="100.5" cy="433.8" r="1.55"/><circle cx="108.8" cy="432.6" r="1.55"/><circle cx="117.1" cy="431.3" r="1.55"/><circle cx="125.4" cy="430.1" r="1.55"/><circle cx="57.7" cy="449.2" r="1.55"/><circle cx="65.9" cy="447.9" r="1.55"/><circle cx="74.2" cy="446.6" r="1.55"/><circle cx="82.4" cy="445.3" r="1.55"/><circle cx="90.6" cy="444.0" r="1.55"/><circle cx="98.8" cy="442.8" r="1.55"/><circle cx="107.0" cy="441.5" r="1.55"/><circle cx="115.3" cy="440.2" r="1.55"/><circle cx="123.5" cy="438.9" r="1.55"/><circle cx="62.1" cy="459.8" r="1.55"/><circle cx="70.3" cy="458.0" r="1.55"/><circle cx="78.5" cy="456.2" r="1.55"/><circle cx="86.7" cy="454.4" r="1.55"/><circle cx="94.9" cy="452.7" r="1.55"/><circle cx="103.1" cy="450.9" r="1.55"/><circle cx="111.3" cy="449.1" r="1.55"/><circle cx="119.5" cy="447.3" r="1.55"/><circle cx="71.7" cy="462.8" r="1.55"/><circle cx="79.8" cy="460.8" r="1.55"/><circle cx="87.9" cy="458.8" r="1.55"/><circle cx="96.0" cy="456.8" r="1.55"/><circle cx="104.1" cy="454.8" r="1.55"/><circle cx="112.2" cy="452.8" r="1.55"/></g><g fill="none" stroke="#f5fdea" stroke-width="2.0" stroke-linecap="round" stroke-linejoin="round">
<path d="M115.2,399 C116.5,390 118.5,385 121,384.3 C127.5,384 132.4,402 132.3,421.5 C132.2,442 127.5,458.6 122,458.5 C119.5,458.4 117,455 115.3,450"/>
<path d="M120.5,384.4 L134.5,383 C142,385 148.6,400 148.4,418.6 C148.3,436 144.5,452 135.9,459.1 L121.9,458.4"/>
<path d="M140.3,385.6 C146,384.8 150,384.8 153.6,385.5 C156.5,386.4 158.5,388.5 161,391.5"/>
<path d="M144,455.6 C148,455.6 151,455.3 153.6,454.7 C160,452 167,447.5 175,442.5"/>
</g></g>
<rect x="-70" y="32.2" width="140" height="40" fill="url(#band)"/>
<rect x="-70" y="30.900000000000002" width="140" height="1.3" fill="#3c6a18" opacity="0.85"/>
<rect x="-70" y="32.2" width="140" height="1.2" fill="#bdea62"/>
</g>
<circle r="64.8" fill="none" stroke="#2a5418" stroke-width="1" opacity="0.6"/>
<text x="-34.2" y="53.1" textLength="66.6" lengthAdjust="spacingAndGlyphs" class="lbl">SHOWER</text>
</g>
<g transform="translate(576.8,431.4)">
<circle cx="0.2" cy="0.3" r="70.0" fill="url(#ring)" filter="url(#soft)"/>
<circle r="67.60000000000001" fill="#f8f8fa"/>
<circle r="66.3" fill="#c6eca8"/>
<g clip-path="url(#cclip)">
<circle r="65.2" fill="#467a29"/>
<circle r="65.2" fill="url(#gshade)"/>
<g transform="translate(14.6,-8.1) scale(1.04)" fill="none" stroke="#f5fdea" stroke-width="2.0" stroke-linecap="round" stroke-linejoin="round">
<ellipse cx="0" cy="0" rx="11.6" ry="36" transform="rotate(-1)"/>
<path d="M3,-28.5 C-6.5,-20 -8.4,12 -0.2,28.5" stroke-width="1.1"/>
<path d="M3,-28.5 C8.5,-18 9,16 -0.2,28.5" stroke-width="0.7" opacity="0.55"/>
<path d="M-0.2,-35.9 L13,-36.7 C20.5,-35 24.8,-18 24.6,-3 C24.4,14 21,30 14.6,35.2 L0.6,36.1"/>
<path d="M16.3,-32.8 C24,-34 33,-32.5 38.1,-29.6 C44,-26.5 50,-20 56,-12"/>
<path d="M18.3,32.6 C26,31.3 34,28.2 41.1,24.6 C47,21.7 54,18.2 62,14.2"/>
<ellipse cx="0.6" cy="-19.5" rx="1.5" ry="3.2" stroke-width="1.15" stroke="#eefadf"/>
<ellipse cx="-2.4" cy="-11" rx="1.6" ry="3.8" stroke-width="1.15" stroke="#eefadf"/>
<ellipse cx="3.1" cy="-13.2" rx="1.6" ry="3.8" stroke-width="1.15" stroke="#eefadf"/>
<ellipse cx="-2.5" cy="-2.8" rx="1.7" ry="4.0" stroke-width="1.15" stroke="#eefadf"/>
<ellipse cx="3.2" cy="-4.4" rx="1.7" ry="4.0" stroke-width="1.15" stroke="#eefadf"/>
<ellipse cx="-2.6" cy="5.4" rx="1.7" ry="4.0" stroke-width="1.15" stroke="#eefadf"/>
<ellipse cx="3.3" cy="4.2" rx="1.7" ry="4.0" stroke-width="1.15" stroke="#eefadf"/>
<ellipse cx="-1.6" cy="14" rx="1.6" ry="3.8" stroke-width="1.15" stroke="#eefadf"/>
<ellipse cx="2.4" cy="13.4" rx="1.6" ry="3.8" stroke-width="1.15" stroke="#eefadf"/>
</g>
<g transform="translate(-576.8,-431.4)"><g fill="#93dbcb" opacity="1"><rect x="521.3" y="412.4" width="3.2" height="3.2" rx="0.5"/><rect x="518.4" y="416.1" width="3.2" height="3.2" rx="0.5"/><rect x="519.8" y="421.1" width="3.2" height="3.2" rx="0.5"/><rect x="532.0" y="412.4" width="3.2" height="3.2" rx="0.5"/><rect x="529.1" y="416.1" width="3.2" height="3.2" rx="0.5"/><rect x="530.5" y="421.1" width="3.2" height="3.2" rx="0.5"/><rect x="542.7" y="412.4" width="3.2" height="3.2" rx="0.5"/><rect x="539.8" y="416.1" width="3.2" height="3.2" rx="0.5"/><rect x="541.2" y="421.1" width="3.2" height="3.2" rx="0.5"/><rect x="553.4" y="412.4" width="3.2" height="3.2" rx="0.5"/><rect x="550.5" y="416.1" width="3.2" height="3.2" rx="0.5"/><rect x="551.9" y="421.1" width="3.2" height="3.2" rx="0.5"/><rect x="564.1" y="412.4" width="3.2" height="3.2" rx="0.5"/><rect x="561.1" y="416.1" width="3.2" height="3.2" rx="0.5"/><rect x="562.6" y="421.1" width="3.2" height="3.2" rx="0.5"/><rect x="574.8" y="412.4" width="3.2" height="3.2" rx="0.5"/><rect x="571.9" y="416.1" width="3.2" height="3.2" rx="0.5"/><rect x="573.3" y="421.1" width="3.2" height="3.2" rx="0.5"/><rect x="585.5" y="412.4" width="3.2" height="3.2" rx="0.5"/><rect x="582.6" y="416.1" width="3.2" height="3.2" rx="0.5"/><rect x="584.0" y="421.1" width="3.2" height="3.2" rx="0.5"/></g>
<g fill="#80d2d6" opacity="1"><rect x="517.8" y="426.8" width="3.2" height="3.2" rx="0.5"/><rect x="515.4" y="429.3" width="3.2" height="3.2" rx="0.5"/><rect x="528.5" y="426.8" width="3.2" height="3.2" rx="0.5"/><rect x="526.1" y="429.3" width="3.2" height="3.2" rx="0.5"/><rect x="539.2" y="426.8" width="3.2" height="3.2" rx="0.5"/><rect x="536.8" y="429.3" width="3.2" height="3.2" rx="0.5"/><rect x="549.9" y="426.8" width="3.2" height="3.2" rx="0.5"/><rect x="547.5" y="429.3" width="3.2" height="3.2" rx="0.5"/><rect x="560.6" y="426.8" width="3.2" height="3.2" rx="0.5"/><rect x="558.2" y="429.3" width="3.2" height="3.2" rx="0.5"/><rect x="571.3" y="426.8" width="3.2" height="3.2" rx="0.5"/><rect x="568.9" y="429.3" width="3.2" height="3.2" rx="0.5"/><rect x="582.0" y="426.8" width="3.2" height="3.2" rx="0.5"/><rect x="579.6" y="429.3" width="3.2" height="3.2" rx="0.5"/></g></g>
<rect x="-70" y="32.2" width="140" height="40" fill="url(#band)"/>
<rect x="-70" y="30.900000000000002" width="140" height="1.3" fill="#3c6a18" opacity="0.85"/>
<rect x="-70" y="32.2" width="140" height="1.2" fill="#bdea62"/>
</g>
<circle r="64.8" fill="none" stroke="#2a5418" stroke-width="1" opacity="0.6"/>
<text x="-28.5" y="53.1" textLength="58.3" lengthAdjust="spacingAndGlyphs" class="lbl">CENTER</text>
</g>
<g transform="translate(220.3,586.8)">
<circle cx="0.2" cy="0.3" r="70.0" fill="url(#ring)" filter="url(#soft)"/>
<circle r="67.60000000000001" fill="#f8f8fa"/>
<circle r="66.3" fill="#c6eca8"/>
<g clip-path="url(#cclip)">
<circle r="65.2" fill="#467a29"/>
<circle r="65.2" fill="url(#gshade)"/>
<g transform="translate(8.2,-10.4) scale(1.07)" fill="none" stroke="#f5fdea" stroke-width="2.0" stroke-linecap="round" stroke-linejoin="round">
<ellipse cx="0" cy="0" rx="11.6" ry="36" transform="rotate(-1)"/>
<path d="M3,-28.5 C-6.5,-20 -8.4,12 -0.2,28.5" stroke-width="1.1"/>
<path d="M3,-28.5 C8.5,-18 9,16 -0.2,28.5" stroke-width="0.7" opacity="0.55"/>
<path d="M-0.2,-35.9 L13,-36.7 C20.5,-35 24.8,-18 24.6,-3 C24.4,14 21,30 14.6,35.2 L0.6,36.1"/>
<path d="M16.3,-32.8 C24,-34 33,-32.5 38.1,-29.6 C44,-26.5 50,-20 56,-12"/>
<path d="M18.3,32.6 C26,31.3 34,28.2 41.1,24.6 C47,21.7 54,18.2 62,14.2"/>
<ellipse cx="0.6" cy="-19.5" rx="1.5" ry="3.2" stroke-width="1.15" stroke="#eefadf"/>
<ellipse cx="-2.4" cy="-11" rx="1.6" ry="3.8" stroke-width="1.15" stroke="#eefadf"/>
<ellipse cx="3.1" cy="-13.2" rx="1.6" ry="3.8" stroke-width="1.15" stroke="#eefadf"/>
<ellipse cx="-2.5" cy="-2.8" rx="1.7" ry="4.0" stroke-width="1.15" stroke="#eefadf"/>
<ellipse cx="3.2" cy="-4.4" rx="1.7" ry="4.0" stroke-width="1.15" stroke="#eefadf"/>
<ellipse cx="-2.6" cy="5.4" rx="1.7" ry="4.0" stroke-width="1.15" stroke="#eefadf"/>
<ellipse cx="3.3" cy="4.2" rx="1.7" ry="4.0" stroke-width="1.15" stroke="#eefadf"/>
<ellipse cx="-1.6" cy="14" rx="1.6" ry="3.8" stroke-width="1.15" stroke="#eefadf"/>
<ellipse cx="2.4" cy="13.4" rx="1.6" ry="3.8" stroke-width="1.15" stroke="#eefadf"/>
</g>
<g transform="translate(-220.3,-586.8)"><g fill="#6ccbc2" opacity="1"><circle cx="203.3" cy="546.5" r="1.6"/><circle cx="200.8" cy="551.4" r="1.6"/><circle cx="199.1" cy="556.7" r="1.6"/><circle cx="198.5" cy="562.3" r="1.6"/><circle cx="198.9" cy="567.8" r="1.6"/><circle cx="200.4" cy="573.2" r="1.6"/><circle cx="202.8" cy="578.3" r="1.6"/><circle cx="197.9" cy="542.9" r="1.6"/><circle cx="195.1" cy="548.0" r="1.6"/><circle cx="193.2" cy="553.5" r="1.6"/><circle cx="192.2" cy="559.3" r="1.6"/><circle cx="192.1" cy="565.1" r="1.6"/><circle cx="192.9" cy="570.8" r="1.6"/><circle cx="194.6" cy="576.4" r="1.6"/><circle cx="197.2" cy="581.6" r="1.6"/><circle cx="192.0" cy="539.1" r="1.6"/><circle cx="189.1" cy="544.4" r="1.6"/><circle cx="186.9" cy="550.1" r="1.6"/><circle cx="185.5" cy="556.0" r="1.6"/><circle cx="185.0" cy="562.0" r="1.6"/><circle cx="185.3" cy="568.1" r="1.6"/><circle cx="186.5" cy="574.1" r="1.6"/><circle cx="188.5" cy="579.8" r="1.6"/><circle cx="191.2" cy="585.2" r="1.6"/><circle cx="185.7" cy="535.0" r="1.6"/><circle cx="182.6" cy="540.5" r="1.6"/><circle cx="180.2" cy="546.4" r="1.6"/><circle cx="178.6" cy="552.5" r="1.6"/><circle cx="177.7" cy="558.7" r="1.6"/><circle cx="177.6" cy="565.1" r="1.6"/><circle cx="178.2" cy="571.4" r="1.6"/><circle cx="179.7" cy="577.5" r="1.6"/><circle cx="181.9" cy="583.5" r="1.6"/><circle cx="184.8" cy="589.1" r="1.6"/><circle cx="179.0" cy="530.7" r="1.6"/><circle cx="175.7" cy="536.4" r="1.6"/><circle cx="173.1" cy="542.4" r="1.6"/><circle cx="171.2" cy="548.7" r="1.6"/><circle cx="170.0" cy="555.2" r="1.6"/><circle cx="169.5" cy="561.8" r="1.6"/><circle cx="169.8" cy="568.4" r="1.6"/><circle cx="170.7" cy="574.9" r="1.6"/><circle cx="172.5" cy="581.2" r="1.6"/><circle cx="174.9" cy="587.4" r="1.6"/><circle cx="177.9" cy="593.2" r="1.6"/><circle cx="172.3" cy="526.3" r="1.6"/><circle cx="168.9" cy="532.2" r="1.6"/><circle cx="166.1" cy="538.4" r="1.6"/><circle cx="165.3" cy="585.0" r="1.6"/><circle cx="167.9" cy="591.3" r="1.6"/><circle cx="171.1" cy="597.3" r="1.6"/></g>
<g fill="#52badd" opacity="1"><circle cx="224.6" cy="553.2" r="1.6"/><circle cx="223.2" cy="557.5" r="1.6"/><circle cx="222.6" cy="561.7" r="1.6"/><circle cx="223.2" cy="566.0" r="1.6"/><circle cx="224.6" cy="570.2" r="1.6"/><circle cx="218.2" cy="551.2" r="1.6"/><circle cx="216.7" cy="556.3" r="1.6"/><circle cx="216.0" cy="561.4" r="1.6"/><circle cx="216.7" cy="566.5" r="1.6"/><circle cx="218.2" cy="571.6" r="1.6"/><circle cx="213.2" cy="552.8" r="1.6"/><circle cx="211.0" cy="557.4" r="1.6"/><circle cx="210.2" cy="562.5" r="1.6"/><circle cx="210.8" cy="567.5" r="1.6"/><circle cx="212.8" cy="572.2" r="1.6"/><circle cx="208.4" cy="549.7" r="1.6"/><circle cx="206.0" cy="554.5" r="1.6"/><circle cx="204.7" cy="559.7" r="1.6"/><circle cx="204.6" cy="565.1" r="1.6"/><circle cx="205.7" cy="570.3" r="1.6"/><circle cx="207.9" cy="575.2" r="1.6"/></g></g>
<rect x="-70" y="32.3" width="140" height="40" fill="url(#band)"/>
<rect x="-70" y="30.999999999999996" width="140" height="1.3" fill="#3c6a18" opacity="0.85"/>
<rect x="-70" y="32.3" width="140" height="1.2" fill="#bdea62"/>
</g>
<circle r="64.8" fill="none" stroke="#2a5418" stroke-width="1" opacity="0.6"/>
<text x="-19.1" y="53.6" textLength="35.1" lengthAdjust="spacingAndGlyphs" class="lbl">MIST</text>
</g>
<g transform="translate(435.2,588.7)">
<circle cx="0.2" cy="0.3" r="70.0" fill="url(#ring)" filter="url(#soft)"/>
<circle r="67.60000000000001" fill="#f8f8fa"/>
<circle r="66.3" fill="#c6eca8"/>
<g clip-path="url(#cclip)">
<circle r="65.2" fill="#467a29"/>
<circle r="65.2" fill="url(#gshade)"/>
<g transform="translate(7.9,-12.3) scale(1.07)" fill="none" stroke="#f5fdea" stroke-width="2.0" stroke-linecap="round" stroke-linejoin="round">
<ellipse cx="0" cy="0" rx="11.6" ry="36" transform="rotate(-1)"/>
<path d="M3,-28.5 C-6.5,-20 -8.4,12 -0.2,28.5" stroke-width="1.1"/>
<path d="M3,-28.5 C8.5,-18 9,16 -0.2,28.5" stroke-width="0.7" opacity="0.55"/>
<path d="M-0.2,-35.9 L13,-36.7 C20.5,-35 24.8,-18 24.6,-3 C24.4,14 21,30 14.6,35.2 L0.6,36.1"/>
<path d="M16.3,-32.8 C24,-34 33,-32.5 38.1,-29.6 C44,-26.5 50,-20 56,-12"/>
<path d="M18.3,32.6 C26,31.3 34,28.2 41.1,24.6 C47,21.7 54,18.2 62,14.2"/>
<ellipse cx="0.6" cy="-19.5" rx="1.5" ry="3.2" stroke-width="1.15" stroke="#eefadf"/>
<ellipse cx="-2.4" cy="-11" rx="1.6" ry="3.8" stroke-width="1.15" stroke="#eefadf"/>
<ellipse cx="3.1" cy="-13.2" rx="1.6" ry="3.8" stroke-width="1.15" stroke="#eefadf"/>
<ellipse cx="-2.5" cy="-2.8" rx="1.7" ry="4.0" stroke-width="1.15" stroke="#eefadf"/>
<ellipse cx="3.2" cy="-4.4" rx="1.7" ry="4.0" stroke-width="1.15" stroke="#eefadf"/>
<ellipse cx="-2.6" cy="5.4" rx="1.7" ry="4.0" stroke-width="1.15" stroke="#eefadf"/>
<ellipse cx="3.3" cy="4.2" rx="1.7" ry="4.0" stroke-width="1.15" stroke="#eefadf"/>
<ellipse cx="-1.6" cy="14" rx="1.6" ry="3.8" stroke-width="1.15" stroke="#eefadf"/>
<ellipse cx="2.4" cy="13.4" rx="1.6" ry="3.8" stroke-width="1.15" stroke="#eefadf"/>
</g>
<g transform="translate(-435.2,-588.7)"><path d="M382.4,550 L443.6,557 L442.4,566.2 L371.8,571.9" fill="none" stroke="#62c4c4" stroke-width="3" stroke-linejoin="round"/></g>
<rect x="-70" y="34.8" width="140" height="40" fill="url(#band)"/>
<rect x="-70" y="33.5" width="140" height="1.3" fill="#3c6a18" opacity="0.85"/>
<rect x="-70" y="34.8" width="140" height="1.2" fill="#bdea62"/>
</g>
<circle r="64.8" fill="none" stroke="#2a5418" stroke-width="1" opacity="0.6"/>
<text x="-18.4" y="54.3" textLength="35.0" lengthAdjust="spacingAndGlyphs" class="lbl">FULL</text>
</g>
</svg>
</body></html>
